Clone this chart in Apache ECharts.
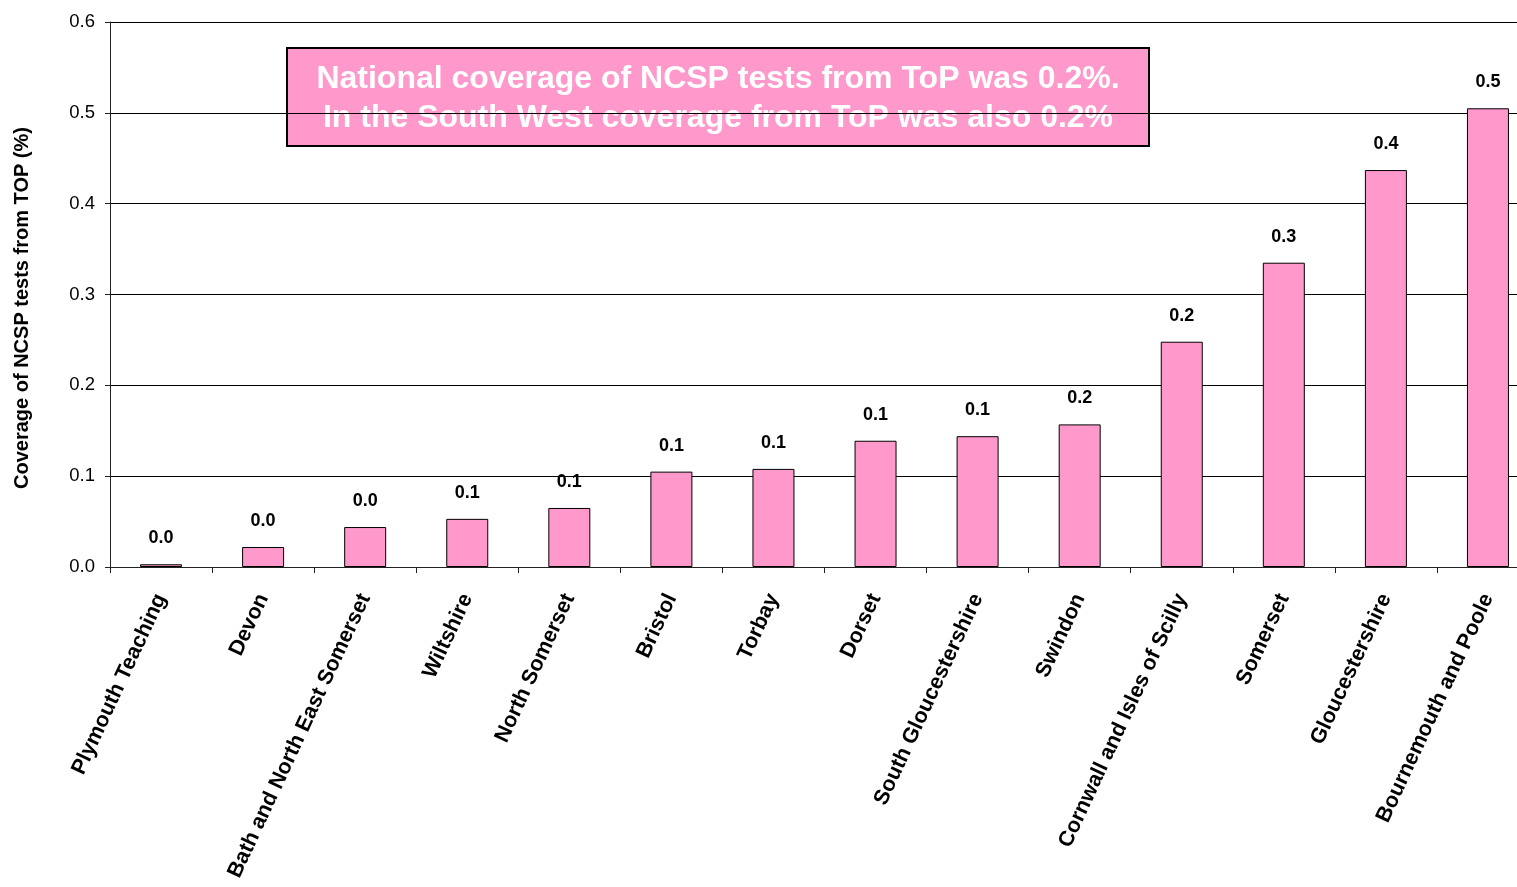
<!DOCTYPE html>
<html>
<head>
<meta charset="utf-8">
<title>NCSP coverage from ToP - South West</title>
<script src="https://cdn.jsdelivr.net/npm/echarts@6/dist/echarts.min.js"></script>
<style>
  html, body { margin: 0; padding: 0; background: #fff; }
  #chart { width: 1517px; height: 887px; }
</style>
</head>
<body>
<div id="chart"></div>
<script>
// Areas, ordered by coverage
const categories = [
  'Plymouth Teaching', 'Devon', 'Bath and North East Somerset', 'Wiltshire',
  'North Somerset', 'Bristol', 'Torbay', 'Dorset', 'South Gloucestershire',
  'Swindon', 'Cornwall and Isles of Scilly', 'Somerset', 'Gloucestershire',
  'Bournemouth and Poole'
];

// Coverage of NCSP tests from ToP (%)
const coverage = [
  0.003, 0.022, 0.044, 0.053, 0.065, 0.105, 0.108, 0.139, 0.144, 0.157,
  0.248, 0.335, 0.437, 0.505
];

const yTicks = { min: 0, max: 0.6, interval: 0.1 };
const yAxisTitle = 'Coverage of NCSP tests from TOP (%)';
const noteLines = [
  'National coverage of NCSP tests from ToP was 0.2%.',
  'In the South West coverage from ToP was also 0.2%'
];

const FONT = '"Liberation Sans", Arial, sans-serif';
const chart = echarts.init(document.getElementById('chart'), null, { renderer: 'canvas' });

chart.setOption({
  animation: false,
  backgroundColor: '#ffffff',
  // the plot runs on past the right edge of the page
  grid: { left: 110, top: 22, width: 1429, height: 545, containLabel: false, outerBoundsMode: 'none' },
  xAxis: {
    type: 'category',
    data: categories,
    boundaryGap: true,
    axisLine: { lineStyle: { color: '#222', width: 1 } },
    axisTick: { show: true, length: 6, alignWithLabel: false, lineStyle: { color: '#222' } },
    axisLabel: {
      interval: 0,
      rotate: 65,
      margin: 28,
      color: '#000',
      fontFamily: FONT,
      fontWeight: 'bold',
      fontSize: 21.5
    }
  },
  yAxis: {
    type: 'value',
    min: yTicks.min,
    max: yTicks.max,
    interval: yTicks.interval,
    axisLine: { show: true, lineStyle: { color: '#222', width: 1 } },
    axisTick: { show: true, length: 5, lineStyle: { color: '#222' } },
    splitLine: { show: true, lineStyle: { color: '#000', width: 1 } },
    axisLabel: {
      color: '#000',
      fontFamily: FONT,
      fontSize: 18.5,
      margin: 15,
      formatter: v => v.toFixed(1)
    }
  },
  series: [{
    type: 'bar',
    data: coverage,
    barWidth: 42,
    itemStyle: { color: '#FF99CC', borderColor: '#000', borderWidth: 1 },
    label: {
      show: true,
      position: 'top',
      distance: 17,
      color: '#000',
      fontFamily: FONT,
      fontWeight: 'bold',
      fontSize: 18,
      formatter: p => p.value.toFixed(1)
    }
  }],
  graphic: [
    {
      // y-axis title
      type: 'text',
      x: 22, y: 308,
      rotation: Math.PI / 2,
      style: {
        text: yAxisTitle, fill: '#000', font: 'bold 20px ' + FONT,
        align: 'center', verticalAlign: 'middle'
      }
    },
    {
      type: 'group',
      left: 286,
      top: 47,
      children: [
        {
          type: 'rect',
          shape: { x: 0, y: 0, width: 862, height: 98 },
          style: { fill: '#FF99CC', stroke: '#000', lineWidth: 2 }
        },
        {
          type: 'text',
          x: 431, y: 31,
          style: {
            text: noteLines[0], fill: '#fff', font: 'bold 32px ' + FONT,
            align: 'center', verticalAlign: 'middle'
          }
        },
        {
          type: 'text',
          x: 431, y: 70,
          style: {
            text: noteLines[1], fill: '#fff', font: 'bold 32px ' + FONT,
            align: 'center', verticalAlign: 'middle'
          }
        }
      ]
    }
  ]
});
</script>
</body>
</html>
